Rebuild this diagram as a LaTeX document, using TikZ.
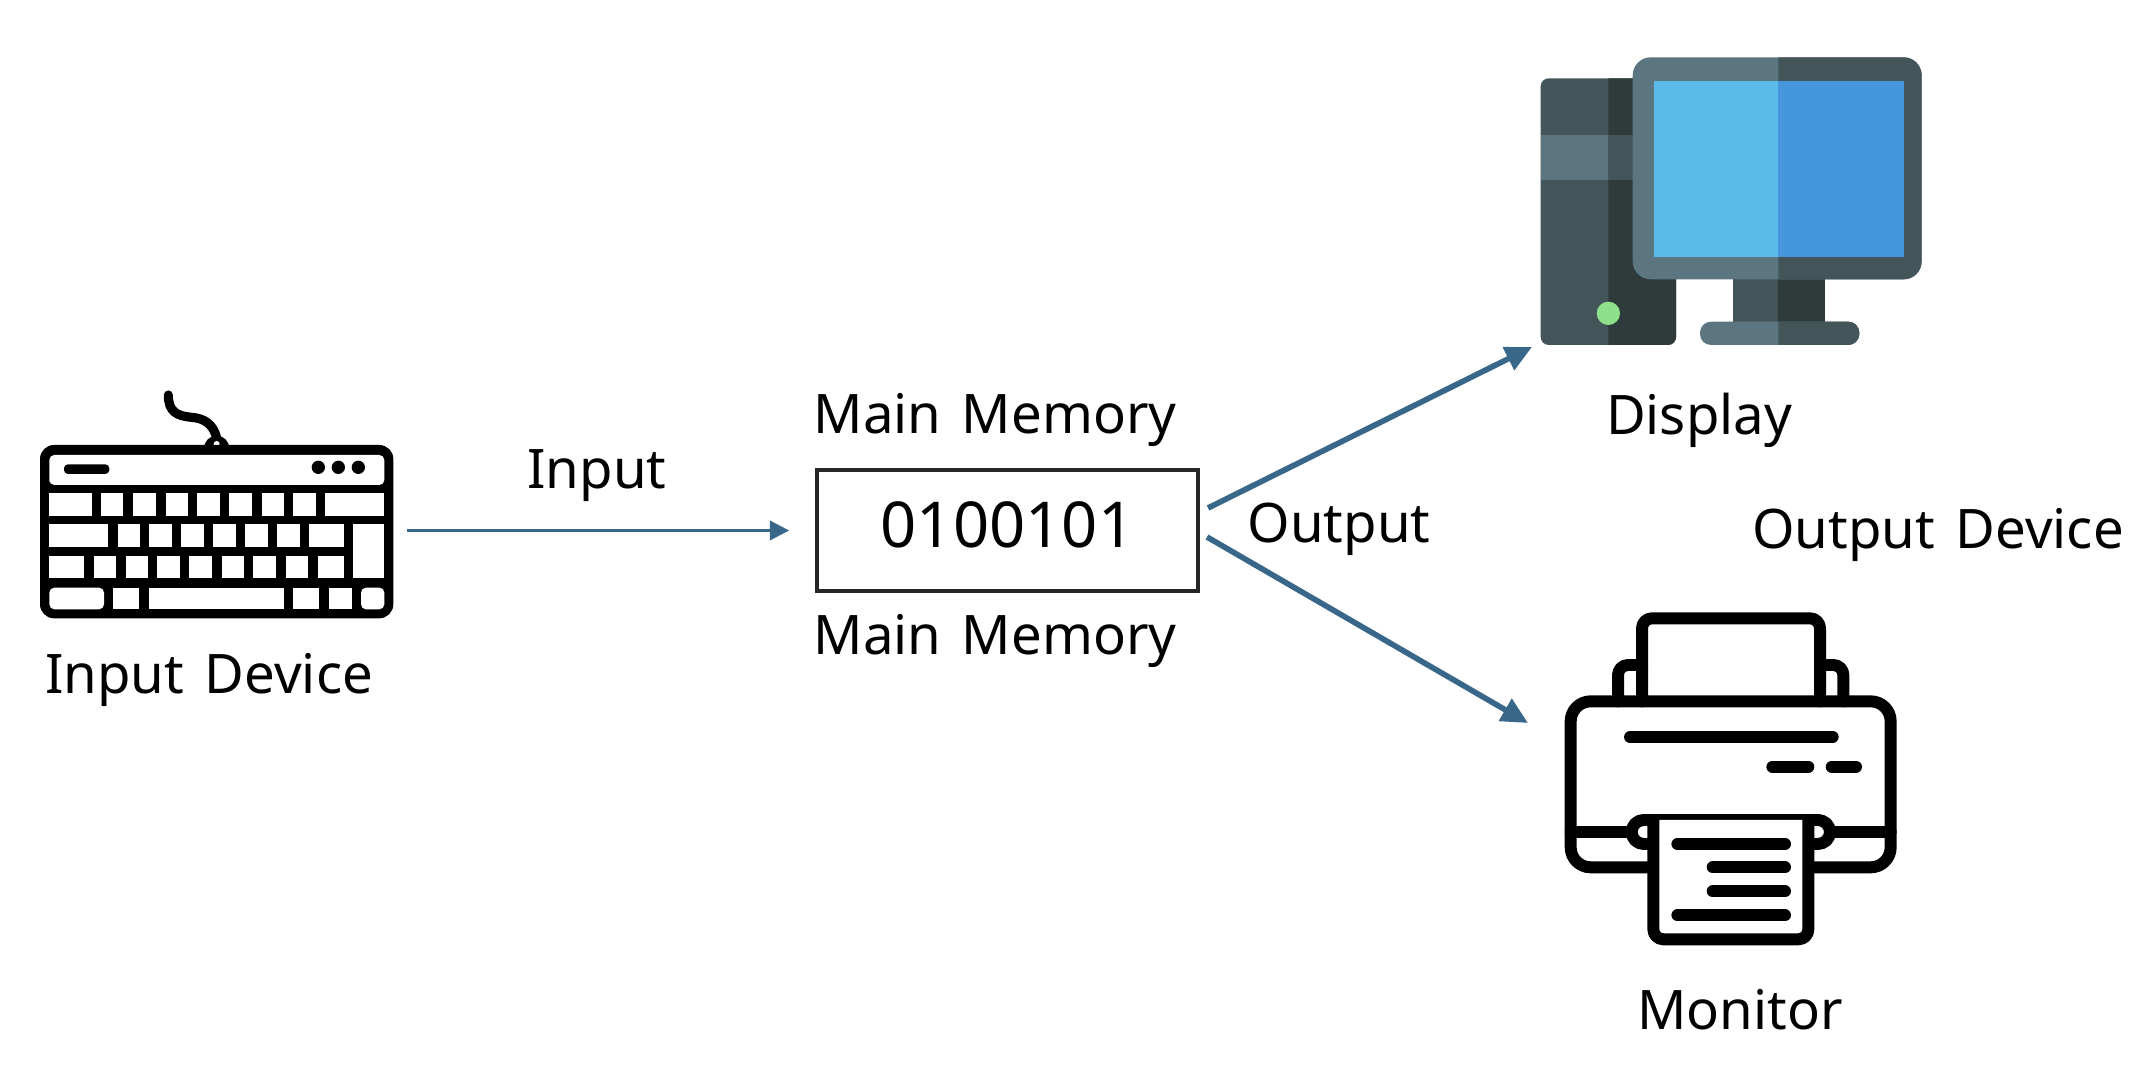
\documentclass[tikz,border=0pt]{standalone}
\usepackage{fontspec}
\setmainfont[WordSpace=1.45]{Noto Sans}
\usepackage{tikz}
\usetikzlibrary{arrows.meta}
\definecolor{slatelight}{HTML}{5B7680}
\definecolor{slatemid}{HTML}{435559}
\definecolor{slatedark}{HTML}{2F3A3B}
\definecolor{screenlight}{HTML}{5ABBEA}
\definecolor{screendark}{HTML}{4596DB}
\definecolor{ledgreen}{HTML}{8FE08A}
\definecolor{flowblue}{HTML}{38678A}
\tikzset{
    caption/.style={font=\fontsize{15.5}{18}\selectfont, inner sep=0pt, text=black},
    flow/.style={flowblue, line width=1.6pt, -{Triangle[length=7.5pt, width=7pt]}},
    inflow/.style={flowblue, line width=0.8pt, -{Triangle[length=5.5pt, width=5.5pt]}},
    inkline/.style={line width=3.4pt, line cap=round, line join=round},
}

\begin{document}
\begin{tikzpicture}[x=0.01cm, y=-0.01cm]
    \useasboundingbox (0, 0) rectangle (2134, 1068);

    % keyboard
    \begin{scope}[shift={(0, 370)}, scale=1/3]
        \draw[line width=2.6pt, black, line cap=round] (650, 205) .. controls (640, 160) and (610, 145) .. (575, 142) .. controls (530, 138) and (505, 125) .. (505, 75);
        \fill[black] (650, 235) circle[radius=38];
        \fill[white] (650, 222) circle[radius=9];
        \fill[black, rounded corners=0.14cm] (120, 225) rectangle (1180, 745);
        \fill[white, rounded corners=0.05cm] (148, 345) -- (148, 255) -- (1153, 255) -- (1153, 345) -- (148, 345) -- cycle;
        \fill[black, rounded corners=0.04cm] (192, 283) rectangle (328, 312);
        \foreach \cx in {955, 1015, 1075}
            \fill[black] (\cx, 292) circle[radius=20];
        \foreach \lo/\hi in {148/275, 303/370, 400/468, 497/565, 592/660, 688/755, 785/852, 880/947, 975/1153}
            \fill[white] (\lo, 370) rectangle (\hi, 437);
        \foreach \lo/\hi in {148/325, 355/420, 448/515, 543/612, 640/708, 735/803, 832/900, 928/1032}
            \fill[white] (\lo, 463) rectangle (\hi, 530);
        \foreach \lo/\hi in {148/253, 282/348, 378/443, 472/540, 568/637, 665/732, 760/828, 857/925, 953/1032}
            \fill[white] (\lo, 558) rectangle (\hi, 625);
        \fill[white] (1060, 463) rectangle (1153, 625);
        \fill[white, rounded corners=0.05cm] (148, 653) rectangle (312, 718);
        \foreach \lo/\hi in {340/418, 448/852, 880/958, 987/1055}
            \fill[white] (\lo, 653) rectangle (\hi, 718);
        \fill[white, rounded corners=0.05cm] (1083, 653) rectangle (1153, 718);
    \end{scope}

    % computer
    \begin{scope}[shift={(1520, 40)}, scale=1/3]
        \fill[slatemid, rounded corners=0.08cm] (62, 115) rectangle (468, 915);
        \begin{scope}
            \clip (265, 100) rectangle (480, 930);
            \fill[slatedark, rounded corners=0.08cm] (62, 115) rectangle (468, 915);
        \end{scope}
        \fill[slatelight] (62, 285) rectangle (265, 420);
        \fill[slatemid] (265, 285) rectangle (345, 420);
        \fill[slatemid] (640, 710) rectangle (775, 850);
        \fill[slatedark] (775, 710) rectangle (915, 850);
        \fill[slatelight, rounded corners=0.11cm] (540, 845) rectangle (1018, 915);
        \begin{scope}
            \clip (775, 840) rectangle (1030, 920);
            \fill[slatemid, rounded corners=0.11cm] (540, 845) rectangle (1018, 915);
        \end{scope}
        \fill[slatelight, rounded corners=0.18cm] (338, 52) rectangle (1205, 718);
        \begin{scope}
            \clip (775, 40) rectangle (1220, 730);
            \fill[slatemid, rounded corners=0.18cm] (338, 52) rectangle (1205, 718);
        \end{scope}
        \fill[screenlight] (403, 122) rectangle (775, 650);
        \fill[screendark] (775, 122) rectangle (1152, 650);
        \fill[ledgreen] (265, 820) circle[radius=35];
    \end{scope}

    % printer
    \begin{scope}[shift={(1540, 600)}, scale=1/3]
        \draw[inkline, rounded corners=0.1cm] (234, 304) -- (234, 195) -- (306, 195);
        \draw[inkline, rounded corners=0.1cm] (840, 195) -- (910, 195) -- (910, 304);
        \draw[inkline, rounded corners=0.1cm] (306, 304) -- (306, 55) -- (840, 55) -- (840, 304);
        \draw[inkline, rounded corners=0.2cm] (92, 304) rectangle (1052, 802);
        \draw[inkline] (92, 695) -- (1052, 695);
        \draw[inkline, fill=white, rounded corners=0.12cm] (275, 660) rectangle (870, 732);
        \draw[inkline, fill=white, rounded corners=0.1cm] (340, 660) -- (340, 1018) -- (805, 1018) -- (805, 660);
        \draw[inkline] (270, 411) -- (878, 411);
        \draw[inkline] (697, 500) -- (805, 500);
        \draw[inkline] (875, 500) -- (948, 500);
        \draw[inkline] (412, 732) -- (735, 732);
        \draw[inkline] (518, 802) -- (735, 802);
        \draw[inkline] (518, 874) -- (735, 874);
        \draw[inkline] (412, 946) -- (735, 946);
    \end{scope}

    % memory box and labels
    \node[draw=black!85, line width=1pt, minimum width=3.81cm, minimum height=1.21cm, inner sep=0pt, font=\fontsize{18}{20}\selectfont] (memory) at (1007.5, 530.5) {\raisebox{3.6pt}{0100101}};
    \node[caption] (topmemory) at (995, 420) {Main Memory};
    \node[caption] (bottommemory) at (995, 641) {Main Memory};
    \node[caption] (inputdevice) at (209, 680) {Input Device};
    \node[caption] (inputlabel) at (597, 476) {Input};
    \node[caption] (outputlabel) at (1339, 529) {Output};
    \node[caption] (displaylabel) at (1699, 420) {Display};
    \node[caption] (outputdevice) at (1938, 535) {Output Device};
    \node[caption] (monitorlabel) at (1740, 1010) {Monitor};

    % connectors
    \coordinate (inputtail) at (407, 530.5);
    \coordinate (uppertail) at (1208, 508);
    \coordinate (lowertail) at (1207, 537);
    \coordinate (pcend) at (1532, 347);
    \coordinate (printerend) at (1528, 723);
    \draw[inflow] (inputtail) -- ([xshift=-0.26cm]memory.west);
    \draw[flow] (uppertail) -- (pcend);
    \draw[flow] (lowertail) -- (printerend);
\end{tikzpicture}
\end{document}
